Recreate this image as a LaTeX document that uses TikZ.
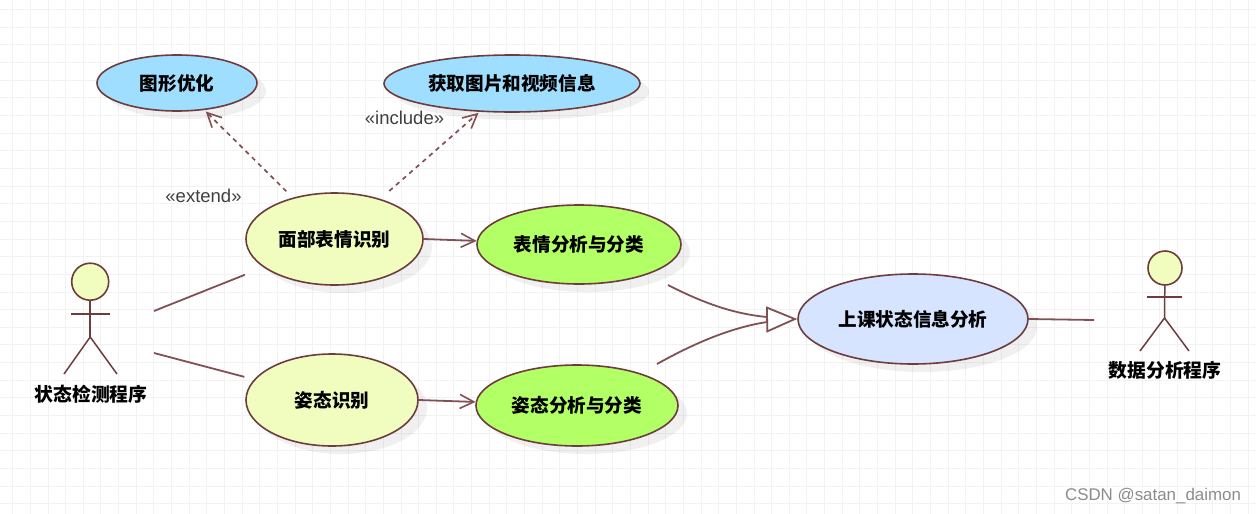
\documentclass[tikz,border=0pt]{standalone}
\usepackage{fontspec}
\setmainfont{Liberation Sans}
\newfontfamily\cjk{Noto Sans CJK SC}
\usetikzlibrary{arrows.meta,shapes.geometric,shadows}
\definecolor{umlline}{RGB}{130,80,84}
\definecolor{umlborder}{RGB}{110,60,62}
\definecolor{paleyellow}{RGB}{240,253,190}
\definecolor{paleblue}{RGB}{160,222,255}
\definecolor{palegreen}{RGB}{178,255,102}
\definecolor{palelav}{RGB}{214,228,255}

\begin{document}
\begin{tikzpicture}[x=1pt,y=-1pt,>={Straight Barb[length=14pt,width=14pt,line width=1.6pt]},
  usecase/.style={ellipse,draw=umlborder,line width=1.6pt,inner sep=0pt,font=\cjk\bfseries\fontsize{18.6}{20}\selectfont,
    drop shadow={shadow xshift=9pt,shadow yshift=-8pt,fill=black,opacity=.06}},
  head/.style={circle,draw=umlborder,fill=paleyellow,line width=1.6pt,inner sep=0pt},
  actorname/.style={font=\cjk\bfseries\fontsize{18.8}{20}\selectfont},
  stereo/.style={text=black!75,font=\fontsize{18.5}{20}\selectfont},
  link/.style={draw=umlline,line width=1.8pt},
  dep/.style={draw=umlline,line width=1.7pt,dash pattern=on 4.5pt off 4.3pt},
  limb/.style={draw=umlborder,line width=1.5pt}]
\useasboundingbox (0,0) rectangle (1256,514);
\fill[white] (0,0) rectangle (1256,514);
% grid paper
\foreach \k [evaluate=\k as \gx using 12.7+17.65*\k] in {0,...,70}
  \draw[black!5,line width=1pt] (\gx,0) -- (\gx,514);
\foreach \k [evaluate=\k as \gy using 9.6+17.65*\k] in {0,...,28}
  \draw[black!5,line width=1pt] (0,\gy) -- (1256,\gy);

\node[usecase,fill=paleblue,minimum width=160pt,minimum height=56pt] (optim) at (177,83) {图形优化};
\node[usecase,fill=paleblue,minimum width=256pt,minimum height=57pt] (fetch) at (512,83.5) {获取图片和视频信息};
\node[usecase,fill=paleyellow,minimum width=177pt,minimum height=92pt] (face) at (334.5,239) {面部表情识别};
\node[usecase,fill=paleyellow,minimum width=172pt,minimum height=92pt] (pose) at (332,400) {姿态识别};
\node[usecase,fill=palegreen,minimum width=204pt,minimum height=79pt] (faceclass) at (579,244.5) {表情分析与分类};
\node[usecase,fill=palegreen,minimum width=202pt,minimum height=81pt] (poseclass) at (577,405.5) {姿态分析与分类};
\node[usecase,fill=palelav,minimum width=230pt,minimum height=90pt] (info) at (913,319) {上课状态信息分析};

% left actor
\node[head,minimum size=37pt] (dethead) at (90.2,281.7) {};
\coordinate (dethip) at (90.2,337);
\draw[limb] (dethead) -- (dethip);
\draw[limb] (71,314) -- (110,314);
\draw[limb] (64,374) -- (dethip) -- (117,374);
\node[actorname] (det) at (91,394) {状态检测程序};

% right actor
\node[head,minimum size=34pt] (anahead) at (1165,268) {};
\coordinate (anahip) at (1164.5,318);
\draw[limb] (anahead) -- (anahip);
\draw[limb] (1147,297) -- (1182,297);
\draw[limb] (1140,351) -- (anahip) -- (1189,351);
\node[actorname] (ana) at (1165,370) {数据分析程序};

\coordinate (det1) at (154,311);
\coordinate (det2) at (154,353);
\coordinate (ana1) at (1094,320);
\coordinate (from1) at (668,285);
\coordinate (from2) at (657,364);
\coordinate (tri1) at (767,317);
\coordinate (tri2) at (767,322);
\coordinate (tribase) at (766,319.5);

\path[link] (det1) edge[shorten >=20pt] (face)
      (det2) edge[shorten >=10pt] (pose)
      (info.east) edge (ana1);
\draw[link,->] (face.east) -- (faceclass.178);
\draw[link,->] (pose.east) -- (poseclass.178);

\draw[dep,->,shorten <=9pt,shorten >=2pt] (face) -- (optim);
\draw[dep,->,shorten <=12pt,shorten >=1.5pt] (face) -- (fetch);
\node[stereo] (ext) at (203.5,196) {«extend»};
\node[stereo] (inc) at (404.5,118) {«include»};

\draw[link] (from1) .. controls (705,304) and (735,314) .. (tri1);
\draw[link] (from2) .. controls (700,340) and (735,327) .. (tri2);
\draw[link,-{Triangle[open,fill=white,length=31pt,width=26pt,line width=1.8pt]}] (tribase) -- (info.west);

\node[text=black!45,font=\fontsize{16.9}{18}\selectfont] (mark) at (1153,496) {CSDN @satan\_daimon};
\end{tikzpicture}
\end{document}
